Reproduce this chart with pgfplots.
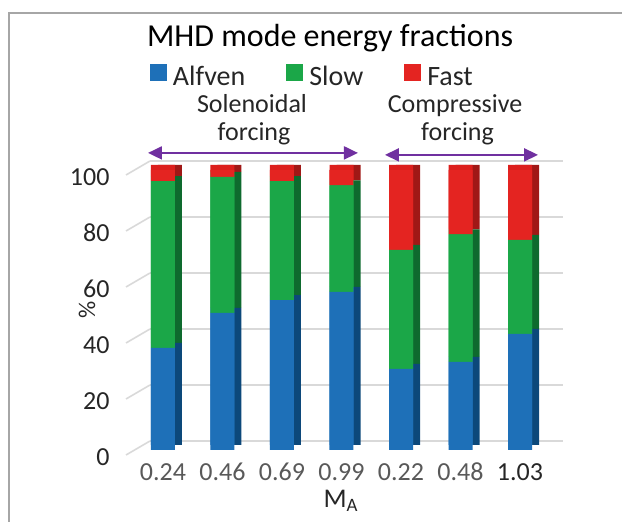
\documentclass[border=0pt]{standalone}
\usepackage{fontspec}
\setmainfont{Carlito}
\usepackage{pgfplots}
\usepackage{pgfplotstable}
\pgfplotsset{compat=1.18}
\usetikzlibrary{arrows.meta}

\definecolor{alf}{RGB}{30,112,184}
\definecolor{alfd}{RGB}{12,72,122}
\definecolor{slo}{RGB}{27,167,72}
\definecolor{slod}{RGB}{14,106,46}
\definecolor{fas}{RGB}{228,36,33}
\definecolor{fast}{RGB}{220,30,28}
\definecolor{fasd}{RGB}{160,24,22}
\definecolor{arr}{RGB}{112,48,160}
\definecolor{grd}{RGB}{217,217,217}
\definecolor{frm}{RGB}{166,166,166}
\definecolor{lbl}{RGB}{38,38,38}
\definecolor{lblg}{RGB}{89,89,89}

% energy fractions (%) per M_A run
\pgfplotstableread{
x alf slo fas
0 36.5 59.5 4.0
1 49.0 48.5 2.5
2 53.5 42.5 4.0
3 56.5 38.0 5.5
4 29.0 42.5 28.5
5 31.5 45.5 23.0
6 41.5 33.5 25.0
}\energy

\pgfplotsset{
  mhd/.style={width=413pt, height=280pt, scale only axis,
    xmin=-0.336, xmax=6.605, ymin=0, ymax=100,
    anchor=south west, axis line style={draw=none},
    major tick length=0pt, clip=false,
    /pgf/number format/assume math mode=true},
  stk/.style={ybar stacked, bar width=24pt, xtick=\empty, ytick=\empty},
}

\begin{document}
\begin{tikzpicture}[x=1pt,y=1pt]
\useasboundingbox (0,0) rectangle (622,522);
\draw[frm, line width=1.2pt] (9,0) -- (9,509) -- (622,509);

% back wall with grid
\begin{axis}[mhd, at={(150pt,81pt)}, xtick=\empty, ytick={0,20,...,100},
  yticklabels={}, ymajorgrids, grid style={grd, line width=1.6pt}]
\addplot[draw=none] coordinates {(0,0)};
\pgfplotsinvokeforeach{0,20,...,100}{
  \draw[grd, line width=1.6pt] (axis cs:-0.336,#1) -- ++(-24pt,-14pt);
}
\end{axis}

% side faces
\begin{axis}[mhd, stk, at={(150pt,77pt)}]
\addplot[draw=none, fill=alfd] table[x=x, y=alf] {\energy};
\addplot[draw=none, fill=slod] table[x=x, y=slo] {\energy};
\addplot[draw=none, fill=fasd] table[x=x, y=fas] {\energy};
\end{axis}

% top faces
\begin{axis}[mhd, stk, at={(143pt,77pt)}]
\addplot[draw=none, fill=alf] table[x=x, y=alf] {\energy};
\addplot[draw=none, fill=slo] table[x=x, y=slo] {\energy};
\addplot[draw=none, fill=fast] table[x=x, y=fas] {\energy};
\end{axis}

% front faces
\begin{axis}[mhd, at={(143pt,72pt)},
  ybar stacked, bar width=24pt,
  xtick={0,...,6},
  xticklabels={0.24,0.46,0.69,0.99,0.22,0.48,\textcolor{lbl}{1.03}},
  ytick={0,20,...,100},
  tick label style={font=\fontsize{26}{30}\selectfont},
  xticklabel style={anchor=base, yshift=-31pt, text=lblg},
  yticklabel style={anchor=east, xshift=-30pt, yshift=-7pt, text=lbl},
  xlabel={M\textsubscript{A}},
  xlabel style={at={(axis description cs:0.479,-0.205)}, anchor=base,
    font=\fontsize{27}{32}\selectfont, text=lbl},
  ylabel={\%},
  ylabel style={at={(axis description cs:-0.1356,0.5)}, anchor=center,
    font=\fontsize{24}{28}\selectfont, text=lbl},
  title={MHD mode energy fractions},
  title style={at={(axis description cs:0.453,1.421)}, anchor=base,
    font=\fontsize{32}{38}\selectfont, text=black},
  legend columns=3,
  legend style={draw=none, fill=none, at={(0.409,1.335)}, anchor=center,
    font=\fontsize{28}{32}\selectfont, text=lbl, nodes={inner sep=1pt},
    /tikz/every odd column/.append style={column sep=5pt},
    /tikz/every even column/.append style={column sep=40pt}},
  legend image code/.code={\fill[#1] (0pt,-4pt) rectangle (17pt,13pt);},
]
\addplot[draw=none, fill=alf] table[x=x, y=alf] {\energy};
\addplot[draw=none, fill=slo] table[x=x, y=slo] {\energy};
\addplot[draw=none, fill=fas] table[x=x, y=fas] {\energy};
\legend{Alfven, Slow, Fast}

\draw[arr, line width=2pt, {Triangle[length=14pt,width=13pt]}-{Triangle[length=14pt,width=13pt]}]
  (axis cs:-0.252,106.1) -- (axis cs:3.277,106.1);
\draw[arr, line width=2pt, {Triangle[length=14pt,width=13pt]}-{Triangle[length=14pt,width=13pt]}]
  (axis cs:3.731,105.4) -- (axis cs:6.303,105.4);
\node[anchor=base, font=\fontsize{26}{30}\selectfont, text=lbl] at (axis cs:1.496,120.7) {Solenoidal};
\node[anchor=base, font=\fontsize{26}{30}\selectfont, text=lbl] at (axis cs:1.53,110.4) {forcing};
\node[anchor=base, font=\fontsize{26}{30}\selectfont, text=lbl] at (axis cs:4.908,120.7) {Compressive};
\node[anchor=base, font=\fontsize{26}{30}\selectfont, text=lbl] at (axis cs:4.95,110.4) {forcing};
\end{axis}
\end{tikzpicture}
\end{document}
